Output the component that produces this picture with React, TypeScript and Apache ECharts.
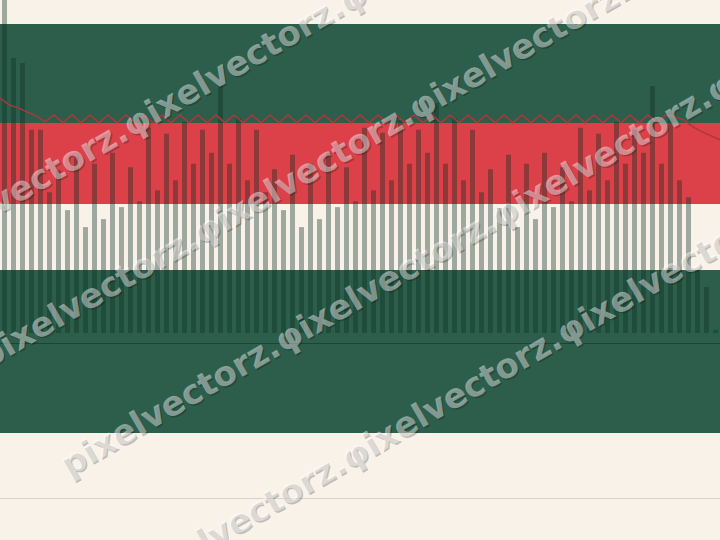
import React, { useEffect, useRef } from "react";
import * as echarts from "echarts";

// Bar categories (80 slots) and their values (0..100 scale)
const barCategories: string[] = Array.from({ length: 80 }, (_, i) => String(i + 1));
const barValues: number[] = [
  100, 82.6, 81.1, 61.0, 61.0, 42.3, 48.9, 36.9, 52.9, 31.8,
  50.8, 34.2, 54.1, 37.8, 49.8, 39.6, 61.6, 42.9, 59.8, 45.9,
  63.4, 50.8, 61.0, 54.1, 74.2, 50.8, 64.6, 45.9, 61.0, 42.3,
  49.2, 36.9, 53.5, 31.8, 50.8, 34.2, 54.1, 37.8, 49.8, 39.6,
  61.6, 42.9, 60.1, 45.9, 64.0, 50.8, 61.0, 54.1, 69.1, 50.8,
  64.6, 45.9, 61.0, 42.3, 49.2, 37.5, 53.5, 31.8, 50.8, 34.2,
  54.1, 37.8, 49.8, 39.6, 61.6, 42.9, 59.8, 45.9, 63.4, 50.8,
  61.0, 54.1, 74.2, 50.8, 64.6, 45.9, 40.8, 18.9, 13.8, 0.9,
];

// Line points sit on slot boundaries (81 points)
const lineCategories: string[] = Array.from({ length: 81 }, (_, i) => String(i));
const lineValues: number[] = [
  70.6, 68.5, 67.6, 66.4, 65.2, 63.4, 65.5, 63.1, 65.5, 63.1,
  65.5, 63.1, 65.5, 63.1, 65.5, 63.1, 65.5, 63.1, 65.5, 63.1,
  65.5, 63.1, 65.5, 63.1, 65.5, 63.1, 65.5, 63.1, 65.5, 63.1,
  65.5, 63.1, 65.5, 63.1, 65.5, 63.1, 65.5, 63.1, 65.5, 63.1,
  65.5, 63.1, 65.5, 63.1, 65.5, 63.1, 65.5, 63.1, 65.5, 63.1,
  65.5, 63.1, 65.5, 63.1, 65.5, 63.1, 65.5, 63.1, 65.5, 63.1,
  65.5, 63.1, 65.5, 63.1, 65.5, 63.1, 65.5, 63.1, 65.5, 63.1,
  65.5, 63.1, 65.5, 63.1, 65.5, 64.9, 64.0, 61.9, 60.4, 59.2,
  58.0,
];

const watermarkText = "pixelvectorz.φixelvectorz.φixelvectorz.φixelvectorz.";

const CREAM = "#F8F2E9";
const GREEN = "#2C5E4B";
const RED = "#DC4048";

export default function App() {
  const ref = useRef<HTMLDivElement>(null);

  useEffect(() => {
    if (!ref.current) return;
    const chart = echarts.init(ref.current, undefined, { renderer: "svg" });

    const slope = Math.tan(Math.PI / 6);
    const rows = [
      { x: -89, c: 200 },
      { x: -19, c: 348 },
      { x: 63, c: 503 },
      { x: 129, c: 658 },
    ];
    const wm: any[] = [];
    rows.forEach((r) => {
      const y = r.c - slope * r.x;
      wm.push({
        type: "text",
        x: r.x + 1.5,
        y: y + 1.5,
        rotation: Math.PI / 6,
        z: 49,
        silent: true,
        style: {
          text: watermarkText,
          font: "bold 34px 'DejaVu Sans'",
          fill: "rgba(0,0,0,0.22)",
          textAlign: "left",
          textVerticalAlign: "middle",
          verticalAlign: "middle",
        },
      });
      wm.push({
        type: "text",
        x: r.x,
        y: y,
        rotation: Math.PI / 6,
        z: 50,
        silent: true,
        style: {
          text: watermarkText,
          font: "bold 34px 'DejaVu Sans'",
          fill: "rgba(255,255,255,0.46)",
          textAlign: "left",
          textVerticalAlign: "middle",
          verticalAlign: "middle",
        },
      });
    });

    chart.setOption({
      animation: false,
      backgroundColor: CREAM,
      grid: { left: 0, right: 0, top: 0, bottom: 207, containLabel: false },
      xAxis: [
        { type: "category", data: barCategories, show: false, boundaryGap: true },
        { type: "category", data: lineCategories, show: false, boundaryGap: false },
      ],
      yAxis: { type: "value", min: 0, max: 100, show: false },
      graphic: [
        { type: "rect", z: 0, silent: true, shape: { x: 0, y: 24, width: 720, height: 99 }, style: { fill: GREEN } },
        { type: "rect", z: 0, silent: true, shape: { x: 0, y: 123, width: 720, height: 81 }, style: { fill: RED } },
        { type: "rect", z: 0, silent: true, shape: { x: 0, y: 270, width: 720, height: 163 }, style: { fill: GREEN } },
        { type: "line", z: 1, silent: true, shape: { x1: 0, y1: 343.5, x2: 720, y2: 343.5 }, style: { stroke: "rgba(10,40,30,0.45)", lineWidth: 1 } },
        { type: "line", z: 1, silent: true, shape: { x1: 0, y1: 498.5, x2: 720, y2: 498.5 }, style: { stroke: "#D8D2C8", lineWidth: 1 } },
        ...wm,
      ],
      series: [
        {
          type: "bar",
          xAxisIndex: 0,
          data: barValues,
          barWidth: 5,
          z: 2,
          itemStyle: { color: "rgba(12,48,38,0.38)" },
        },
        {
          type: "line",
          xAxisIndex: 1,
          data: lineValues,
          symbol: "none",
          z: 3,
          lineStyle: { color: "#A8393C", width: 1.5 },
        },
      ],
    });

    return () => chart.dispose();
  }, []);

  return (
    <div
      ref={ref}
      style={{ position: "absolute", left: 0, top: 0, width: 720, height: 540 }}
    />
  );
}
